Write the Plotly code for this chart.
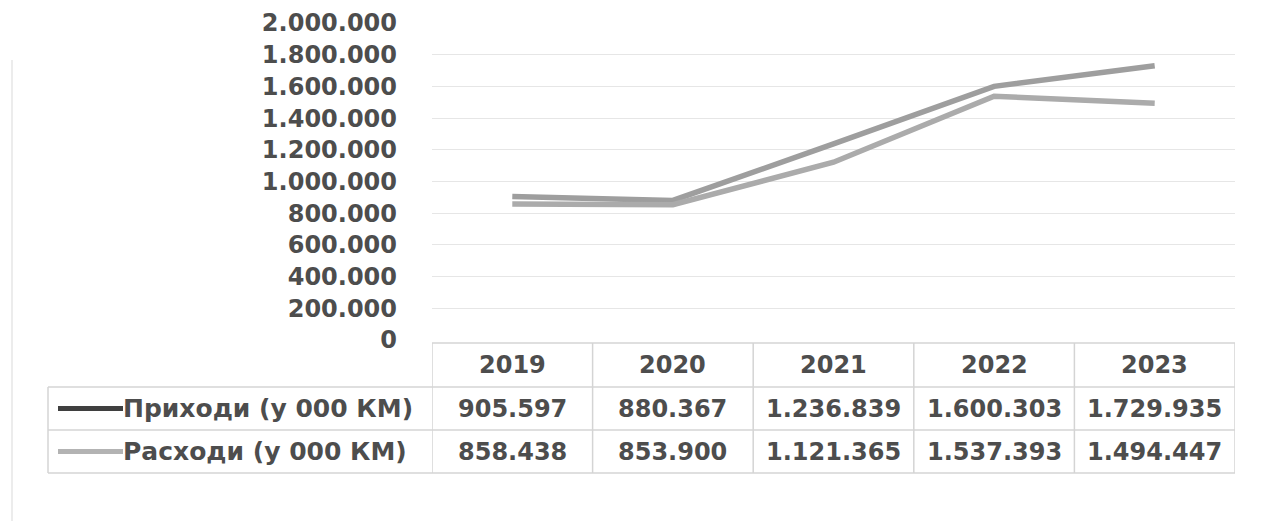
import plotly.graph_objects as go

years = ["2019", "2020", "2021", "2022", "2023"]
series_names = ["Приходи (у 000 КМ)", "Расходи (у 000 КМ)"]
income = [905597, 880367, 1236839, 1600303, 1729935]
expenses = [858438, 853900, 1121365, 1537393, 1494447]
y_ticks = [0, 200000, 400000, 600000, 800000, 1000000, 1200000, 1400000,
           1600000, 1800000, 2000000]

W, H = 1261, 521
OFF = 8  # page body margin
def px(x):
    return (x - OFF) / W
def py(y):
    return 1 - (y - OFF) / H

FONT = "DejaVu Sans"
TXT = "#4d4d4d"
GRID = "#e6e6e6"
BORDER = "#d4d4d4"
line_colors = ["#9e9e9e", "#ababab"]
legend_colors = ["#3f3f3f", "#b3b3b3"]

def fmt(v):
    return f"{v:,}".replace(",", ".")

fig = go.Figure()
for name, vals, c in zip(series_names, [income, expenses], line_colors):
    fig.add_trace(go.Scatter(x=list(range(len(years))), y=vals, mode="lines",
                             name=name, line=dict(color=c, width=5.5),
                             showlegend=False))

x0p, x1p = px(432), px(1235)
fig.update_layout(
    width=W, height=H, margin=dict(l=0, r=0, t=0, b=0, autoexpand=False),
    paper_bgcolor="white", plot_bgcolor="white",
    separators=",.",
    xaxis=dict(domain=[x0p, x1p], range=[-0.5, len(years) - 0.5],
               showticklabels=False, showgrid=False, zeroline=False,
               fixedrange=True, automargin=False),
    yaxis=dict(domain=[py(340), py(23)], range=[0, 2000000],
               tickvals=y_ticks, tickformat=",d", automargin=False,
               showgrid=True, gridcolor=GRID, gridwidth=1, zeroline=False,
               ticklabelstandoff=34,
               tickfont=dict(family=FONT, size=24, color=TXT, weight="bold")),
    font=dict(family=FONT),
)

shapes = []
r_top, r_h, r_1, r_2 = py(343), py(387), py(430), py(473)
lg_left = px(48)
shapes.append(dict(type="line", xref="x", yref="paper", x0=-0.5, x1=4.5, y0=r_top, y1=r_top,
                   line=dict(color=BORDER, width=1.5)))
for yy in [r_h, r_1, r_2]:
    shapes.append(dict(type="line", xref="paper", yref="paper", x0=lg_left, x1=x1p, y0=yy, y1=yy,
                       line=dict(color=BORDER, width=1.5)))
for i in range(len(years) + 1):
    shapes.append(dict(type="line", xref="x", yref="paper", x0=i - 0.5, x1=i - 0.5,
                       y0=r_2, y1=r_top, line=dict(color=BORDER, width=1.5)))
shapes.append(dict(type="line", xref="paper", yref="paper", x0=lg_left, x1=lg_left,
                   y0=r_2, y1=r_h, line=dict(color=BORDER, width=1.5)))
row_centers = [py(408.5), py(451.5)]
for yc, c in zip(row_centers, legend_colors):
    shapes.append(dict(type="line", xref="paper", yref="paper", x0=px(58), x1=px(123),
                       y0=yc, y1=yc, line=dict(color=c, width=5)))
shapes.append(dict(type="line", xref="paper", yref="paper", x0=px(12), x1=px(12),
                   y0=0, y1=py(60), line=dict(color="#ececec", width=2)))
fig.update_layout(shapes=shapes)

ann = []
tf = dict(family=FONT, size=24, color=TXT, weight="bold")
lf = dict(family=FONT, size=25, color=TXT, weight="bold")
for i, yr in enumerate(years):
    ann.append(dict(x=i, y=py(365), xref="x", yref="paper", text=yr, showarrow=False,
                    font=tf, xanchor="center", yanchor="middle"))
for yc, name, vals in zip(row_centers, series_names, [income, expenses]):
    ann.append(dict(x=px(121), y=yc, xref="paper", yref="paper", text=name, showarrow=False,
                    font=lf, xanchor="left", yanchor="middle"))
    for i, v in enumerate(vals):
        ann.append(dict(x=i, y=yc, xref="x", yref="paper", text=fmt(v), showarrow=False,
                        font=tf, xanchor="center", yanchor="middle"))
fig.update_layout(annotations=ann)

fig.write_html("out.html")
